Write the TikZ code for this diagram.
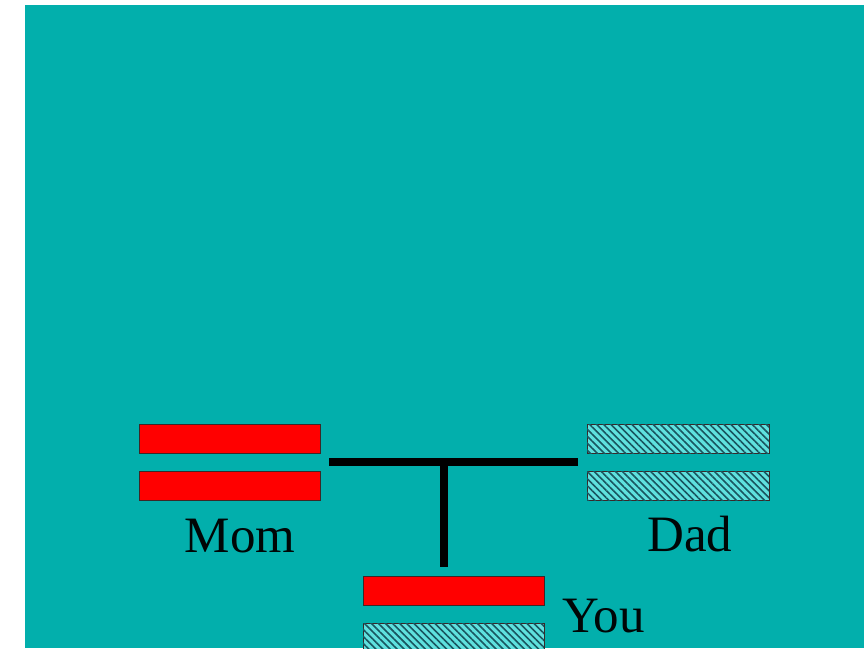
\documentclass[tikz,border=0pt]{standalone}
\usepackage{fontspec}
\setmainfont{Liberation Serif}
\usetikzlibrary{patterns.meta}
\definecolor{bgteal}{RGB}{2,175,172}
\definecolor{hatchbg}{RGB}{95,225,222}
\definecolor{hatchln}{RGB}{25,85,95}
\definecolor{edgec}{RGB}{60,40,40}
\begin{document}
\begin{tikzpicture}[x=1pt,y=-1pt,
  redbar/.style={draw=edgec,line width=0.8pt,fill=red},
  hatchbar/.style={draw=edgec,line width=0.8pt,fill=hatchbg,
    postaction={pattern={Lines[angle=-45,distance=5pt,line width=1.6pt]},pattern color=hatchln}},
  lbl/.style={font=\fontsize{51}{56}\selectfont,text=black!95!teal,anchor=base,inner sep=0pt},
  tline/.style={line width=8pt,black}]
\useasboundingbox (0,0) rectangle (866,648);
\clip (0,0) rectangle (866,648);
\fill[white] (0,0) rectangle (866,648);
\fill[bgteal] (25,5) rectangle (864,648);
% Mom
\draw[redbar] (139,424) rectangle (320,453);
\draw[redbar] (139,471) rectangle (320,500);
\node[lbl] (mom) at (240,552) {Mom};
% Dad
\draw[hatchbar] (587,424) rectangle (769,453);
\draw[hatchbar] (587,471) rectangle (769,500);
\node[lbl] (dad) at (690,551) {Dad};
% You
\draw[redbar] (363,576) rectangle (544,605);
\draw[hatchbar] (363,623) rectangle (544,652);
\node[lbl,anchor=base west] (you) at (562,632) {You};
% T connector
\coordinate (tl) at (329,461.5);
\coordinate (tr) at (578,461.5);
\coordinate (tm) at (444,461.5);
\coordinate (tb) at (444,567);
\draw[tline] (tl) -- (tr);
\draw[tline] (tm) -- (tb);
\end{tikzpicture}
\end{document}
